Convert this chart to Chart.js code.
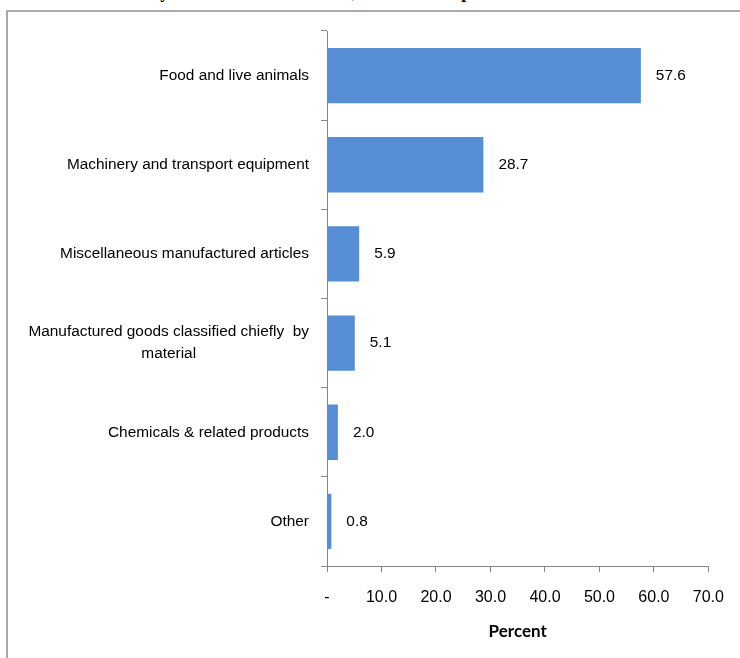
<!DOCTYPE html>
<html>
<head>
<meta charset="utf-8">
<script src="https://cdn.jsdelivr.net/npm/chart.js@4.4.1/dist/chart.umd.min.js"></script>
<style>
  html, body { margin: 0; padding: 0; background: #ffffff; overflow: hidden; width: 740px; height: 658px; }
  #title { position: absolute; left: 100px; top: -17.5px; white-space: nowrap;
           font: bold 18px "Liberation Serif", serif; line-height: 18px; color: #000; }
  #wrap { position: absolute; left: 0; top: 0; width: 740px; height: 658px; }
</style>
</head>
<body>
<div id="title">Trade by the main SITC sections, 2014 total imports</div>
<div id="wrap"><canvas id="c"></canvas></div>
<script>
const categories = [
  "Food and live animals",
  "Machinery and transport equipment",
  "Miscellaneous manufactured articles",
  ["Manufactured goods classified chiefly  by", "material"],
  "Chemicals & related products",
  "Other"
];
const shareValues = [57.6, 28.7, 5.9, 5.1, 2.0, 0.8];
const xTickMin = 0;
const xTickMax = 70;
const xTickStep = 10;
const axisTitle = "Percent";

const labelFont = '15.4px "Liberation Sans", Arial, sans-serif';

const frameLines = {
  id: 'frameLines',
  beforeDraw(chart) {
    const ctx = chart.ctx;
    ctx.save();
    ctx.strokeStyle = '#a9a9a9';
    ctx.lineWidth = 2;
    ctx.beginPath();
    ctx.moveTo(7, chart.height);
    ctx.lineTo(7, 11);
    ctx.lineTo(chart.width, 11);
    ctx.stroke();
    ctx.restore();
  }
};

const valueLabels = {
  id: 'valueLabels',
  afterDatasetsDraw(chart) {
    const ctx = chart.ctx;
    const meta = chart.getDatasetMeta(0);
    ctx.save();
    ctx.font = labelFont;
    ctx.fillStyle = '#000';
    ctx.textAlign = 'left';
    ctx.textBaseline = 'middle';
    meta.data.forEach((el, i) => {
      ctx.fillText(shareValues[i].toFixed(1), el.x + 15, el.y);
    });
    ctx.restore();
  }
};

const categoryLabels = {
  id: 'categoryLabels',
  afterDraw(chart) {
    const ctx = chart.ctx;
    const ys = chart.scales.y;
    const rightEdge = ys.right - 18;
    const lh = 22;
    ctx.save();
    ctx.font = labelFont;
    ctx.fillStyle = '#000';
    ctx.textAlign = 'center';
    ctx.textBaseline = 'middle';
    categories.forEach((lab, i) => {
      const lines = Array.isArray(lab) ? lab : [lab];
      const widest = Math.max(...lines.map(l => ctx.measureText(l).width));
      const cx = rightEdge - widest / 2;
      const yc = ys.getPixelForTick(i);
      const y0 = yc - (lines.length - 1) * lh / 2;
      lines.forEach((l, k) => ctx.fillText(l, cx, y0 + k * lh));
    });
    ctx.restore();
  }
};

new Chart(document.getElementById('c'), {
  type: 'bar',
  data: {
    labels: categories,
    datasets: [{
      data: shareValues,
      backgroundColor: '#558ed5',
      borderWidth: 0,
      barPercentage: 0.62,
      categoryPercentage: 1.0
    }]
  },
  options: {
    indexAxis: 'y',
    responsive: true,
    maintainAspectRatio: false,
    animation: false,
    layout: { padding: { top: 31, right: 31, left: 0, bottom: 0 } },
    plugins: {
      legend: { display: false },
      tooltip: { enabled: false },
      title: { display: false }
    },
    scales: {
      x: {
        type: 'linear',
        min: xTickMin,
        max: xTickMax,
        afterFit(scale) { scale.height = 92; },
        ticks: {
          stepSize: xTickStep,
          padding: 16,
          color: '#000',
          font: { family: '"Liberation Sans", Arial, sans-serif', size: 16 },
          callback: (v) => v === 0 ? '-' : Number(v).toFixed(1)
        },
        grid: { drawOnChartArea: false, drawTicks: true, tickLength: 6, color: '#868686' },
        border: { display: true, color: '#868686', width: 1 },
        title: {
          display: true,
          text: axisTitle,
          color: '#000',
          font: { family: 'Lato, "Open Sans", sans-serif', size: 17, weight: 'bold' },
          padding: { top: 0, bottom: 16 }
        }
      },
      y: {
        type: 'category',
        afterFit(scale) { scale.width = 327; },
        ticks: { display: false },
        grid: { drawOnChartArea: false, drawTicks: true, tickLength: 6, color: '#868686', offset: true },
        border: { display: true, color: '#868686', width: 1 }
      }
    }
  },
  plugins: [frameLines, valueLabels, categoryLabels]
});
</script>
</body>
</html>
